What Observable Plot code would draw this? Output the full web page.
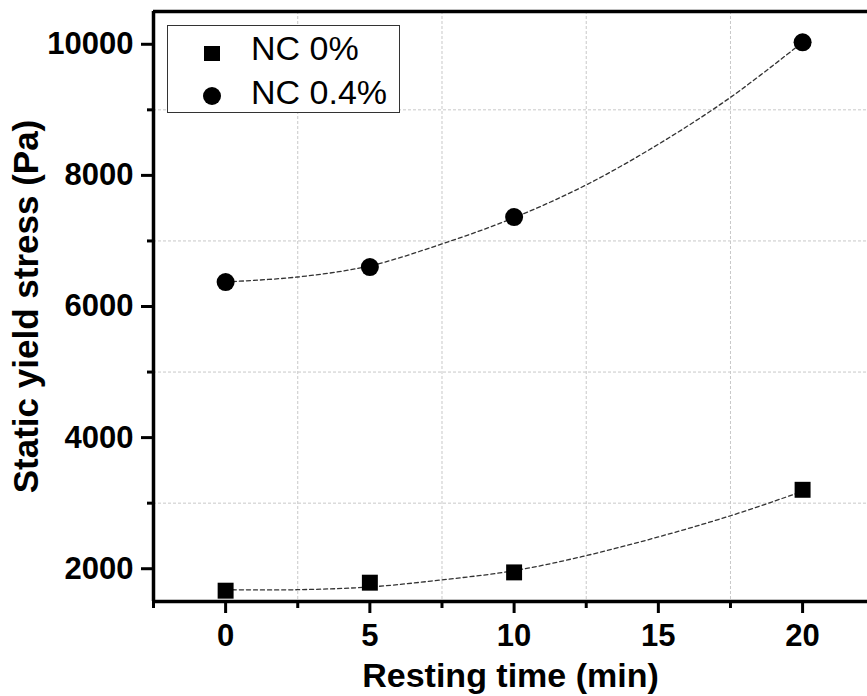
<!DOCTYPE html>
<html>
<head>
<meta charset="utf-8">
<script src="https://cdn.jsdelivr.net/npm/d3@7"></script>
<script src="https://cdn.jsdelivr.net/npm/@observablehq/plot@0.6"></script>
<style>
  html, body { margin: 0; padding: 0; background: white; }
  #wrap { position: relative; width: 867px; height: 696px; font-family: "Liberation Sans", Arial, sans-serif; }
  #legend { position: absolute; left: 167px; top: 25px; width: 233px; height: 88px; border: 1px solid #333; background: white; box-sizing: border-box; }
  .item { position: absolute; left: 0; height: 44px; width: 100%; }
  .item svg { position: absolute; left: 33px; top: 0; }
  .item span { position: absolute; left: 83px; font-size: 34px; line-height: 44px; color: black; white-space: nowrap; }
</style>
</head>
<body>
<div id="wrap"></div>
<script>
// Data
const times = [0, 5, 10, 20];
const nc0 = [1665, 1787, 1944, 3204];
const nc04 = [6373, 6602, 7364, 10030];
// Dashed fit curves
const fitTimes = [0, 2.5, 5, 7.5, 10, 12.5, 15, 17.5, 20];
const fitNc0 = [1680, 1680, 1722, 1830, 1970, 2200, 2485, 2808, 3180];
const fitNc04 = [6375, 6450, 6620, 6955, 7355, 7855, 8475, 9190, 10030];
// Axis ticks
const xMajor = [0, 5, 10, 15, 20];
const xMinor = [-2.5, 2.5, 7.5, 12.5, 17.5];
const xGrid = [2.5, 7.5, 12.5, 17.5];
const yMajor = [2000, 4000, 6000, 8000, 10000];
const yMinor = [3000, 5000, 7000, 9000];
const seriesNames = ["NC 0%", "NC 0.4%"];
const xLabel = "Resting time (min)";
const yLabel = "Static yield stress (Pa)";

const pts0 = times.map((t, i) => ({t, v: nc0[i]}));
const pts04 = times.map((t, i) => ({t, v: nc04[i]}));
const fit0 = fitTimes.map((t, i) => ({t, v: fitNc0[i]}));
const fit04 = fitTimes.map((t, i) => ({t, v: fitNc04[i]}));

const font = "Liberation Sans, Arial, sans-serif";
const gridStyle = {stroke: "#c8c8c8", strokeOpacity: 1, strokeWidth: 1, strokeDasharray: "3,2"};
const fitStyle = {x: "t", y: "v", curve: "catmull-rom", stroke: "#333", strokeWidth: 1.3, strokeDasharray: "4,3"};

const chart = Plot.plot({
  width: 867,
  height: 696,
  marginLeft: 153,
  marginRight: 0,
  marginTop: 11,
  marginBottom: 95,
  style: {fontFamily: font, background: "white", color: "black"},
  x: {domain: [-2.5, 22.25]},
  y: {domain: [1500, 10500]},
  marks: [
    Plot.gridX(xGrid, gridStyle),
    Plot.gridY(yMinor, gridStyle),
    Plot.line(fit0, fitStyle),
    Plot.line(fit04, fitStyle),
    Plot.dot(pts0, {x: "t", y: "v", symbol: "square", r: 9, fill: "black", stroke: "none"}),
    Plot.dot(pts04, {x: "t", y: "v", symbol: "circle", r: 9, fill: "black", stroke: "none"}),
    Plot.ruleX([-2.5], {strokeWidth: 3.5, stroke: "black"}),
    Plot.ruleY([1500], {strokeWidth: 3.5, stroke: "black"}),
    Plot.ruleY([10500], {strokeWidth: 3.5, stroke: "black"}),
    Plot.axisX(xMajor, {tickSize: 12, tickPadding: 10, fontSize: 31, fontWeight: "bold", strokeWidth: 3, tickFormat: d => String(d), label: null}),
    Plot.axisX(xMinor, {tickSize: 7, strokeWidth: 3, tickFormat: () => "", label: null}),
    Plot.axisY(yMajor, {tickSize: 12, tickPadding: 8, fontSize: 31, fontWeight: "bold", strokeWidth: 3, tickFormat: d => String(d), label: null}),
    Plot.axisY(yMinor, {tickSize: 6, strokeWidth: 3, tickFormat: () => "", label: null}),
    Plot.text([xLabel], {frameAnchor: "bottom", dy: 75, fontSize: 34, fontWeight: "bold", fill: "black", lineAnchor: "middle", textAnchor: "middle"}),
    Plot.text([yLabel], {frameAnchor: "left", rotate: -90, dx: -127, fontSize: 35, fontWeight: "bold", fill: "black", lineAnchor: "middle", textAnchor: "middle"})
  ]
});

const wrap = document.getElementById("wrap");
wrap.appendChild(chart);

// Legend
const legend = document.createElement("div");
legend.id = "legend";
seriesNames.forEach((name, i) => {
  const item = document.createElement("div");
  item.className = "item";
  item.style.top = (i * 44) + "px";
  const sym = i === 0
    ? '<svg width="22" height="44"><rect x="3" y="20" width="16" height="15" fill="black"/></svg>'
    : '<svg width="22" height="44"><circle cx="11" cy="26" r="9" fill="black"/></svg>';
  item.innerHTML = sym + '<span></span>';
  item.querySelector("span").textContent = name;
  legend.appendChild(item);
});
wrap.appendChild(legend);
</script>
</body>
</html>
